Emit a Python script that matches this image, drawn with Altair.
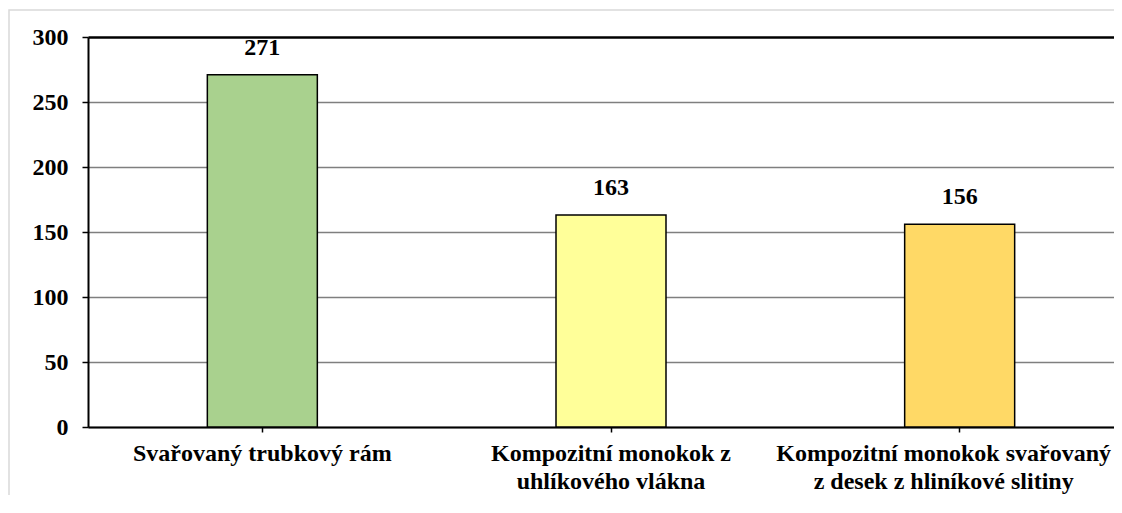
import altair as alt
import pandas as pd

categories = [
    "Svařovaný trubkový rám",
    "Kompozitní monokok z uhlíkového vlákna",
    "Kompozitní monokok svařovaný z desek z hliníkové slitiny",
]
label_lines = [
    ["Svařovaný trubkový rám"],
    ["Kompozitní monokok z", "uhlíkového vlákna"],
    ["Kompozitní monokok svařovaný", "z desek z hliníkové slitiny"],
]
values = [271, 163, 156]
colors = ["#a9d18e", "#ffff99", "#ffd966"]
y_ticks = [0, 50, 100, 150, 200, 250, 300]

df = pd.DataFrame({"kategorie": categories, "hodnota": values})

FONT = "Liberation Serif"
FS = 24

# label expression for multi-line category labels
parts = []
for cat, lines in zip(categories, label_lines):
    arr = "[" + ",".join("'" + l + "'" for l in lines) + "]"
    parts.append(f"datum.label == '{cat}' ? {arr}")
label_expr = " : ".join(parts) + " : datum.label"

x_enc = alt.X(
    "kategorie:N",
    sort=categories,
    scale=alt.Scale(range=[0, 1046], paddingInner=0, paddingOuter=0),
    axis=alt.Axis(
        title=None,
        labelAngle=0,
        labelExpr=label_expr,
        labelFont=FONT,
        labelFontWeight="bold",
        labelFontSize=FS,
        labelColor="black",
        labelLineHeight=28,
        labelPadding=9,
        labelLimit=500,
        labelOverlap=False,
        labelOffset=alt.condition(f"datum.value == '{categories[2]}'", alt.value(-16), alt.value(0)),
        tickSize=5,
        tickColor="black",
        tickWidth=1.5,
        domainColor="black",
        domainWidth=2,
        grid=False,
    ),
)
y_enc = alt.Y(
    "hodnota:Q",
    scale=alt.Scale(domain=[0, 300], nice=False),
    axis=alt.Axis(
        title=None,
        values=y_ticks,
        labelFont=FONT,
        labelFontWeight="bold",
        labelFontSize=FS,
        labelColor="black",
        labelPadding=14,
        tickSize=6,
        tickColor="black",
        tickWidth=1.5,
        domainColor="black",
        domainWidth=2,
        grid=True,
        gridColor=alt.condition("datum.value == 300", alt.value("black"), alt.value("#7f7f7f")),
        gridWidth=alt.condition("datum.value == 300", alt.value(2.5), alt.value(1.5)),
    ),
)

border = alt.Chart(alt.Data(values=[{"a": 1}])).mark_rect(
    fill=None, stroke="#d9d9d9", strokeWidth=1.5
).encode(
    x=alt.value(-79), x2=alt.value(1200), y=alt.value(-27), y2=alt.value(600)
)

bars = alt.Chart(df).mark_bar(width=110, stroke="black", strokeWidth=1.5).encode(
    x=x_enc,
    y=y_enc,
    color=alt.Color(
        "kategorie:N",
        scale=alt.Scale(domain=categories, range=colors),
        legend=None,
    ),
)

text = alt.Chart(df).mark_text(
    baseline="bottom", dy=-15, font=FONT, fontWeight="bold", fontSize=FS, color="black"
).encode(
    x=alt.X("kategorie:N", sort=categories),
    y="hodnota:Q",
    text="hodnota:Q",
)

chart = alt.layer(border, bars, text).properties(
    width=1026,
    height=390,
    autosize=alt.AutoSizeParams(type="none"),
    padding={"left": 80, "top": 29, "right": 0, "bottom": 68},
).configure_view(stroke=None).configure(background="white")

chart.save("out.html", embed_options={"renderer": "svg", "actions": False})
